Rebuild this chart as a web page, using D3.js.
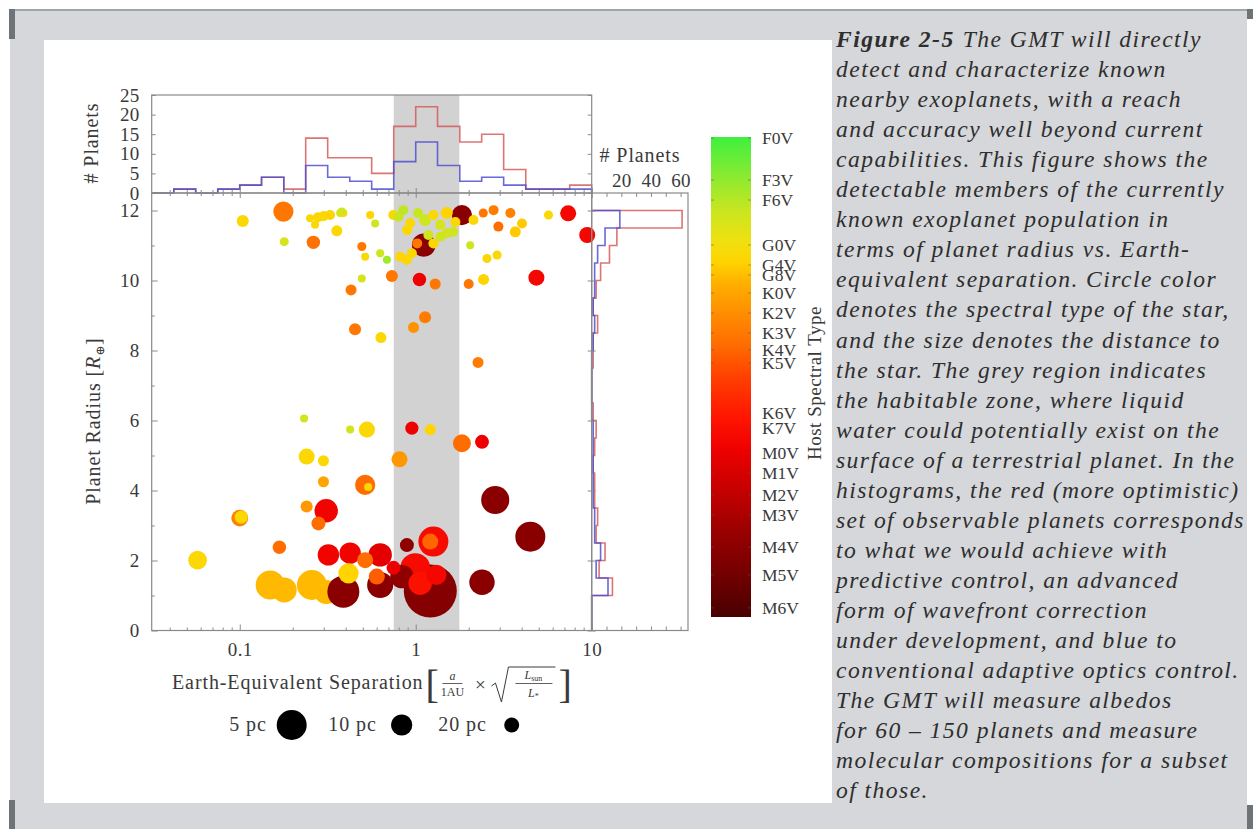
<!DOCTYPE html>
<html>
<head>
<meta charset="utf-8">
<script src="https://cdn.jsdelivr.net/npm/d3@7"></script>
<style>
  html, body { margin: 0; padding: 0; background: #fff; }
  svg { display: block; }
  text { font-family: "Liberation Serif", "DejaVu Serif", serif; }
</style>
</head>
<body>
<svg id="chart"></svg>
<script>
const WIDTH = 1257,
  HEIGHT = 829,
  PANEL = { left: 44, top: 40, right: 832, bottom: 803 },
  MAIN = { left: 151.7, right: 591.7, top: 193, bottom: 630.5 },
  TOP_HIST = { top: 95, bottom: 193 },
  SIDE_HIST = { left: 591.7, right: 688 },
  COLORBAR = { left: 711, width: 40, top: 137, bottom: 617 },
  LEGEND = { x: 291.7, step: 110, y: 725, gap: 25 },
  CAPTION = { x: 836, top: 47, lineHeight: 30.05, size: 23.6, width: 409 },
  FONT_SIZE = 19,
  LABEL_SIZE = 20,
  LABEL_SPACING = 0.9,
  AXIS_COLOR = "#8a8a8a",
  TEXT_COLOR = "#3a3a3a",
  RED_LINE = "#d65c5c",
  BLUE_LINE = "#4f4fd0";

// axis ranges and tick labels
const sepRange = [0.0316, 10];
const radiusRange = [0, 12.5];
const topCountRange = [0, 25];
const sideCountRange = [0, 65];
const xTickLabels = [0.1, 1, 10];
const yTickValues = [0, 2, 4, 6, 8, 10, 12];
const topHistTicks = [0, 5, 10, 15, 20, 25];
const sideHistTicks = [10, 20, 30, 40, 50, 60];
const sideHistLabels = [20, 40, 60];
const habitableZone = [0.75, 1.77];
const legendDistances = [5, 10, 20];

// colour bar: spectral type and its position on the colour axis
const spectralTypes = ["F0V", "F3V", "F6V", "G0V", "G4V", "G8V", "K0V", "K2V", "K3V", "K4V",
  "K5V", "K6V", "K7V", "M0V", "M1V", "M2V", "M3V", "M4V", "M5V", "M6V"];
const spectralValues = [7290, 6888, 6696, 6265, 6073, 5978, 5805, 5613, 5421, 5259,
  5134, 4655, 4511, 4272, 4080, 3869, 3678, 3371, 3103, 2787];
const spectralRange = [7300, 2700];
const colorStopValues = [7300, 6900, 6600, 6300, 6100, 5900, 5600, 5300, 5000, 4600, 4300, 3900, 3500, 3100, 2700];
const colorStopColors = ["#3ef03e", "#8eea30", "#c8e620", "#f0e010", "#ffd400", "#ffb000", "#ff8c00",
  "#ff6c00", "#ff4000", "#ff1400", "#ee0000", "#c40000", "#980000", "#720000", "#480000"];

// histogram of separation (top), red = predictive control, blue = adaptive optics
const sepBinEdges = [0.0316, 0.0422, 0.0562, 0.075, 0.1, 0.133, 0.178, 0.237, 0.316, 0.422, 0.562,
  0.75, 1.0, 1.33, 1.78, 2.37, 3.16, 4.22, 5.62, 7.5, 10];
const sepCountsPredictive = [0, 1, 0, 1, 2, 4, 1, 14, 9, 9, 5, 17, 22, 17, 13, 15, 6, 1, 1, 2];
const sepCountsAdaptive = [0, 1, 0, 1, 2, 4, 0, 7, 4, 3, 1, 8, 13, 7, 3, 4, 2, 1, 1, 1];

// histogram of radius (right)
const radiusBinEdges = [0, 0.5, 1, 1.5, 2, 2.5, 3, 3.5, 4, 4.5, 5, 5.5, 6, 6.5, 7, 7.5, 8, 8.5, 9, 9.5,
  10, 10.5, 11, 11.5, 12];
const radiusCountsPredictive = [0, 0, 14, 5, 9, 3, 4, 2, 2, 1, 2, 3, 1, 0, 0, 1, 1, 4, 1, 3, 6, 12, 17, 61];
const radiusCountsAdaptive = [0, 0, 11, 3, 6, 2, 2, 1, 1, 1, 1, 1, 0, 0, 0, 0, 1, 2, 1, 2, 2, 4, 9, 19];

// planets: separation [AU eq.], radius [R_earth], distance [pc], host colour value
const planetSep = [1.21, 0.149, 0.179, 0.257, 0.31, 0.388, 4.48, 2.83, 1.26, 0.994,
  2.38, 0.628, 0.835, 1.06, 1.31, 0.31, 0.628, 0.319, 0.424, 0.415,
  0.0576, 0.1, 0.102, 0.168, 0.24, 0.28, 0.516, 0.601, 0.891, 1.21,
  0.748, 0.516, 0.537, 0.24, 0.299, 0.299, 0.809, 1.83, 2.38, 0.951,
  1.21, 0.528, 0.424, 0.232, 2.26, 0.634, 0.972, 0.452, 1.13, 0.429,
  0.494, 0.732, 1.05, 1.29, 2.0, 2.43, 4.85, 1.83, 1.11, 0.177,
  7.35, 9.43, 0.104, 0.179, 0.262, 0.251, 0.279, 0.326, 0.372, 0.356,
  0.268, 0.494, 0.516, 0.388, 0.551, 0.588, 0.746, 0.798, 0.849, 0.93,
  1.03, 1.13, 1.26, 1.38, 1.5, 0.894, 1.18, 1.68, 2.13, 2.42,
  2.77, 2.95, 3.45, 3.68, 4.02, 5.68, 0.951, 1.02, 0.891, 0.816,
  1.26, 1.38, 1.5, 1.63, 0.628, 0.686, 2.04, 2.54, 2.9, 0.38, 0.3];
const planetRadius = [1.13, 1.3, 1.16, 1.3, 1.1, 1.11, 2.68, 3.73, 2.54, 1.78,
  1.38, 1.3, 1.54, 1.35, 1.59, 3.42, 2.16, 2.16, 2.21, 1.63,
  2.01, 3.21, 3.24, 2.38, 3.54, 3.06, 2.01, 1.54, 2.44, 2.54,
  1.79, 4.16, 4.1, 4.97, 4.85, 4.25, 4.89, 5.35, 5.39, 5.78,
  5.74, 5.74, 5.74, 6.06, 7.66, 8.37, 8.66, 8.61, 8.95, 9.73,
  10.06, 10.13, 10.03, 9.9, 9.9, 10.03, 10.08, 11.87, 11.01, 11.97,
  11.92, 11.3, 11.7, 11.11, 11.09, 11.78, 11.81, 11.87, 11.93, 11.42,
  11.59, 10.97, 10.68, 11.93, 11.87, 11.63, 11.87, 11.82, 12.01, 11.64,
  11.93, 11.73, 11.87, 11.59, 11.93, 11.44, 11.3, 11.67, 11.73, 11.93,
  12.01, 11.54, 11.93, 11.39, 11.63, 11.87, 10.78, 11.06, 10.59, 10.68,
  11.06, 11.25, 11.35, 11.39, 10.78, 10.59, 11.01, 10.63, 10.73, 11.97, 11.84];
const planetDistance = [1.6, 5.3, 7.2, 5.0, 7.8, 4.4, 5.0, 5.7, 5.0, 5.0,
  7.0, 6.6, 8.2, 8.2, 11, 8.2, 8.2, 9.8, 9.8, 11,
  13, 16, 26, 25, 31, 23, 17.5, 17.5, 23, 17.5,
  23, 11, 70, 17.5, 37, 37, 17.5, 14, 23, 26,
  37, 17.5, 70, 70, 37, 37, 37, 31, 31, 37,
  70, 31, 25, 37, 45, 37, 17.5, 11, 8.2, 11,
  17.5, 17.5, 31, 55, 25, 70, 45, 45, 70, 37,
  70, 55, 70, 70, 70, 70, 45, 45, 45, 45,
  45, 31, 45, 45, 31, 45, 45, 45, 45, 55,
  45, 45, 45, 37, 45, 55, 45, 45, 45, 45,
  45, 45, 45, 45, 70, 70, 70, 55, 55, 70, 45];
const planetHost = [3300, 5950, 5950, 5950, 5950, 3350, 3350, 3350, 4450, 4450,
  3350, 3350, 3400, 4550, 4400, 4350, 4200, 4350, 4350, 6100,
  6150, 5500, 6150, 5300, 5700, 5300, 5300, 5200, 3400, 5250,
  4300, 5300, 6150, 6150, 6150, 5800, 5700, 5300, 4300, 4300,
  6100, 6150, 6550, 6550, 5450, 6150, 5650, 5400, 5450, 5400,
  6500, 5400, 4300, 5400, 5400, 6100, 4400, 3350, 3350, 5400,
  4400, 4400, 6150, 6500, 5350, 6150, 6100, 6100, 6500, 6150,
  6150, 5400, 6150, 6150, 6100, 6550, 6150, 6600, 6650, 6150,
  6600, 6550, 6150, 6500, 6100, 6150, 6550, 6150, 6150, 5400,
  5450, 5300, 5500, 6050, 6050, 6150, 6150, 5400, 6150, 6100,
  6150, 6550, 6550, 6550, 6550, 6800, 6550, 6150, 6150, 6550, 6150];

const captionTitle = "Figure 2-5";
const captionLines = [
  "The GMT will directly",
  "detect and characterize known",
  "nearby exoplanets, with a reach",
  "and accuracy well beyond current",
  "capabilities. This figure shows the",
  "detectable members of the currently",
  "known exoplanet population in",
  "terms of planet radius vs. Earth-",
  "equivalent separation. Circle color",
  "denotes the spectral type of the star,",
  "and the size denotes the distance to",
  "the star. The grey region indicates",
  "the habitable zone, where liquid",
  "water could potentially exist on the",
  "surface of a terrestrial planet. In the",
  "histograms, the red (more optimistic)",
  "set of observable planets corresponds",
  "to what we would achieve with",
  "predictive control, an advanced",
  "form of wavefront correction",
  "under development, and blue to",
  "conventional adaptive optics control.",
  "The GMT will measure albedos",
  "for 60 – 150 planets and measure",
  "molecular compositions for a subset",
  "of those."
];

let svg, x, y, yTop, xSide, size, color, cbY;

document.addEventListener("DOMContentLoaded", function () {
  setSVG();
  setScales();
  drawBackground();
  drawHabitableZone();
  drawHistograms();
  drawPlanets();
  drawAxes();
  drawAxisLabels();
  drawColorbar();
  drawLegend();
  drawCaption();
});

function setSVG() {
  svg = d3.select("#chart").attr("width", WIDTH).attr("height", HEIGHT);
}

function setScales() {
  x = d3.scaleLog().domain(sepRange).range([MAIN.left, MAIN.right]);
  y = d3.scaleLinear().domain(radiusRange).range([MAIN.bottom, MAIN.top]);
  yTop = d3.scaleLinear().domain(topCountRange).range([TOP_HIST.bottom, TOP_HIST.top]);
  xSide = d3.scaleLinear().domain(sideCountRange).range([SIDE_HIST.left, SIDE_HIST.right]);
  size = d3.scalePow().exponent(-0.5).domain([5, 20]).range([15, 7.5]);
  color = d3.scaleLinear().domain(colorStopValues).range(colorStopColors).clamp(true);
  cbY = d3.scaleLinear().domain(spectralRange).range([COLORBAR.top, COLORBAR.bottom]);
}

function drawBackground() {
  svg.append("rect").attr("width", WIDTH).attr("height", HEIGHT).attr("fill", "#fff");
  svg.append("rect")
    .attr("x", 10).attr("y", 10)
    .attr("width", 1237).attr("height", HEIGHT - 10)
    .attr("fill", "#d5d7da");
  svg.append("rect").attr("x", 10).attr("y", 9).attr("width", 1243).attr("height", 2).attr("fill", "#a2a6ab");
  const bars = [[9, 9, 30], [1247, 9, 10], [9, 800, 29], [1247, 805, 24]];
  svg.selectAll(".corner").data(bars).enter().append("rect")
    .attr("class", "corner")
    .attr("x", (d) => d[0]).attr("y", (d) => d[1])
    .attr("width", 6).attr("height", (d) => d[2])
    .attr("fill", "#6e7378");
  svg.append("rect")
    .attr("x", PANEL.left).attr("y", PANEL.top)
    .attr("width", PANEL.right - PANEL.left).attr("height", PANEL.bottom - PANEL.top)
    .attr("fill", "#fff");
}

function drawHabitableZone() {
  svg.append("rect")
    .attr("x", x(habitableZone[0]))
    .attr("y", TOP_HIST.top)
    .attr("width", x(habitableZone[1]) - x(habitableZone[0]))
    .attr("height", MAIN.bottom - TOP_HIST.top)
    .attr("fill", "#d2d2d2");
}

function drawHistograms() {
  const topLine = d3.line()
    .x((d) => x(d[0]))
    .y((d) => yTop(d[1]))
    .curve(d3.curveStepAfter);
  const sideLine = d3.line()
    .x((d) => xSide(d[0]))
    .y((d) => y(d[1]))
    .curve(d3.curveStepBefore);

  const topPoints = (counts) => {
    const pts = [[sepBinEdges[0], 0]];
    counts.forEach((c, i) => pts.push([sepBinEdges[i], c]));
    pts.push([sepBinEdges[counts.length], counts[counts.length - 1]]);
    pts.push([sepBinEdges[counts.length], 0]);
    return pts;
  };
  const sidePoints = (counts) => {
    const pts = [[0, radiusBinEdges[0]]];
    counts.forEach((c, i) => pts.push([c, radiusBinEdges[i]]));
    pts.push([counts[counts.length - 1], radiusBinEdges[counts.length]]);
    pts.push([0, radiusBinEdges[counts.length]]);
    return pts;
  };

  const series = [
    { top: sepCountsPredictive, side: radiusCountsPredictive, color: RED_LINE },
    { top: sepCountsAdaptive, side: radiusCountsAdaptive, color: BLUE_LINE },
  ];
  series.forEach((s) => {
    svg.append("path")
      .attr("d", topLine(topPoints(s.top)))
      .attr("fill", "none").attr("stroke", s.color)
      .attr("stroke-width", 1.6).attr("stroke-opacity", 0.85);
    svg.append("path")
      .attr("d", sideLine(sidePoints(s.side)))
      .attr("fill", "none").attr("stroke", s.color)
      .attr("stroke-width", 1.6).attr("stroke-opacity", 0.85);
  });
}

function drawPlanets() {
  const planets = planetSep.map((s, i) => ({
    sep: s, radius: planetRadius[i], dist: planetDistance[i], host: planetHost[i],
  }));
  svg.append("g")
    .selectAll("circle")
    .data(planets)
    .enter()
    .append("circle")
    .attr("cx", (d) => x(d.sep))
    .attr("cy", (d) => y(d.radius))
    .attr("r", (d) => size(d.dist))
    .attr("fill", (d) => color(d.host));
}

function styleAxis(g) {
  g.select(".domain").remove();
  g.selectAll(".tick line").attr("stroke", AXIS_COLOR);
  g.selectAll(".tick text")
    .attr("fill", TEXT_COLOR)
    .attr("font-size", FONT_SIZE)
    .attr("letter-spacing", 0.4)
    .attr("font-family", '"Liberation Serif", serif');
}

function drawAxes() {
  const frames = [
    [MAIN.left, TOP_HIST.top, MAIN.right, TOP_HIST.bottom],
    [MAIN.left, MAIN.top, MAIN.right, MAIN.bottom],
    [SIDE_HIST.left, MAIN.top, SIDE_HIST.right, MAIN.bottom],
  ];
  svg.selectAll(".frame").data(frames).enter().append("rect")
    .attr("class", "frame")
    .attr("x", (d) => d[0]).attr("y", (d) => d[1])
    .attr("width", (d) => d[2] - d[0]).attr("height", (d) => d[3] - d[1])
    .attr("fill", "none").attr("stroke", AXIS_COLOR).attr("stroke-width", 1.2);

  const minorSep = x.ticks().filter((t) => !xTickLabels.some((m) => Math.abs(m - t) < 1e-9));
  const minorRadius = y.ticks(12).filter((t) => !yTickValues.includes(t));

  // main x axis
  svg.append("g").attr("transform", `translate(0,${MAIN.bottom})`)
    .call(d3.axisBottom(x).tickValues(xTickLabels).tickSize(-6).tickPadding(12).tickFormat((d) => String(d)))
    .call(styleAxis);
  svg.append("g").attr("transform", `translate(0,${MAIN.bottom})`)
    .call(d3.axisBottom(x).tickValues(minorSep).tickSize(-3).tickFormat(""))
    .call(styleAxis);
  // shared boundary between top histogram and main plot
  [d3.axisBottom, d3.axisTop].forEach((ax) => {
    svg.append("g").attr("transform", `translate(0,${MAIN.top})`)
      .call(ax(x).tickValues(xTickLabels).tickSize(-5).tickFormat(""))
      .call(styleAxis);
    svg.append("g").attr("transform", `translate(0,${MAIN.top})`)
      .call(ax(x).tickValues(minorSep).tickSize(-3).tickFormat(""))
      .call(styleAxis);
  });

  // main y axis
  svg.append("g").attr("transform", `translate(${MAIN.left},0)`)
    .call(d3.axisLeft(y).tickValues(yTickValues).tickSize(-6).tickPadding(12))
    .call(styleAxis);
  svg.append("g").attr("transform", `translate(${MAIN.left},0)`)
    .call(d3.axisLeft(y).tickValues(minorRadius).tickSize(-3).tickFormat(""))
    .call(styleAxis);
  svg.append("g").attr("transform", `translate(${MAIN.right},0)`)
    .call(d3.axisLeft(y).tickValues(yTickValues).tickSize(4).tickFormat(""))
    .call(styleAxis);
  svg.append("g").attr("transform", `translate(${MAIN.right},0)`)
    .call(d3.axisRight(y).tickValues(yTickValues).tickSize(4).tickFormat(""))
    .call(styleAxis);

  // top histogram counts
  svg.append("g").attr("transform", `translate(${MAIN.left},0)`)
    .call(d3.axisLeft(yTop).tickValues(topHistTicks).tickSize(-4).tickPadding(12))
    .call(styleAxis);
  svg.append("g").attr("transform", `translate(${MAIN.right},0)`)
    .call(d3.axisRight(yTop).tickValues(topHistTicks).tickSize(-4).tickFormat(""))
    .call(styleAxis);

  // side histogram counts
  svg.append("g").attr("transform", `translate(0,${MAIN.top})`)
    .call(d3.axisTop(xSide).tickValues(sideHistTicks).tickSize(-4).tickPadding(6)
      .tickFormat((d) => (sideHistLabels.includes(d) ? d : "")))
    .call(styleAxis);
  svg.append("g").attr("transform", `translate(0,${MAIN.bottom})`)
    .call(d3.axisBottom(xSide).tickValues(sideHistTicks).tickSize(-4).tickFormat(""))
    .call(styleAxis);
}

function drawAxisLabels() {
  const label = (tx, ty, rot) => svg.append("text")
    .attr("transform", `translate(${tx},${ty}) rotate(${rot})`)
    .attr("text-anchor", "middle")
    .attr("font-size", LABEL_SIZE)
    .attr("letter-spacing", LABEL_SPACING)
    .attr("fill", TEXT_COLOR);

  label(98, 143, -90).text("# Planets");
  label(640, 162, 0).text("# Planets");

  const yl = label(100, 421, -90);
  yl.append("tspan").text("Planet Radius [");
  yl.append("tspan").attr("font-style", "italic").text("R");
  yl.append("tspan").attr("font-size", 12).attr("dy", 4).text("⊕");
  yl.append("tspan").attr("dy", -4).text("]");

  // x label with the small formula
  const xl = svg.append("text")
    .attr("x", 172).attr("y", 689)
    .attr("font-size", LABEL_SIZE).attr("letter-spacing", LABEL_SPACING)
    .attr("fill", TEXT_COLOR)
    .text("Earth-Equivalent Separation");
  const x0 = 172 + xl.node().getComputedTextLength() + 2;
  const math = svg.append("g").attr("transform", `translate(${x0},0)`)
    .attr("fill", TEXT_COLOR);
  math.append("text").attr("x", 0).attr("y", 698).attr("font-size", 40).text("[");
  math.append("text").attr("x", 27).attr("y", 680).attr("font-size", 12)
    .attr("text-anchor", "middle").attr("font-style", "italic").text("a");
  math.append("line").attr("x1", 17).attr("x2", 37).attr("y1", 683.5).attr("y2", 683.5)
    .attr("stroke", TEXT_COLOR).attr("stroke-width", 0.8);
  math.append("text").attr("x", 27).attr("y", 696).attr("font-size", 12)
    .attr("text-anchor", "middle").text("1AU");
  math.append("text").attr("x", 55).attr("y", 691).attr("font-size", FONT_SIZE)
    .attr("text-anchor", "middle").text("×");
  math.append("path")
    .attr("d", "M66,686 L70,683 L76,702 L83,667 L130,667")
    .attr("fill", "none").attr("stroke", TEXT_COLOR).attr("stroke-width", 1);
  const num = math.append("text").attr("x", 108).attr("y", 679).attr("font-size", 12)
    .attr("text-anchor", "middle");
  num.append("tspan").attr("font-style", "italic").text("L");
  num.append("tspan").attr("font-size", 8).attr("dy", 2).text("sun");
  math.append("line").attr("x1", 90).attr("x2", 127).attr("y1", 683.5).attr("y2", 683.5)
    .attr("stroke", TEXT_COLOR).attr("stroke-width", 0.8);
  const den = math.append("text").attr("x", 108).attr("y", 697).attr("font-size", 12)
    .attr("text-anchor", "middle");
  den.append("tspan").attr("font-style", "italic").text("L");
  den.append("tspan").attr("font-size", 8).attr("dy", 2).text("*");
  math.append("text").attr("x", 133).attr("y", 698).attr("font-size", 40).text("]");
}

function drawColorbar() {
  const defs = svg.append("defs");
  const grad = defs.append("linearGradient")
    .attr("id", "cbar").attr("x1", 0).attr("x2", 0).attr("y1", 0).attr("y2", 1);
  const span = COLORBAR.bottom - COLORBAR.top;
  grad.selectAll("stop").data(colorStopValues).enter().append("stop")
    .attr("offset", (d) => (cbY(d) - COLORBAR.top) / span)
    .attr("stop-color", (d) => color(d));

  svg.append("rect")
    .attr("x", COLORBAR.left).attr("y", COLORBAR.top)
    .attr("width", COLORBAR.width).attr("height", span)
    .attr("fill", "url(#cbar)");

  const ticks = svg.append("g").selectAll("g").data(spectralValues).enter().append("g");
  ticks.append("line")
    .attr("x1", COLORBAR.left).attr("x2", COLORBAR.left + 3)
    .attr("y1", (d) => cbY(d)).attr("y2", (d) => cbY(d))
    .attr("stroke", "#555").attr("stroke-opacity", 0.5);
  ticks.append("line")
    .attr("x1", COLORBAR.left + COLORBAR.width - 3).attr("x2", COLORBAR.left + COLORBAR.width)
    .attr("y1", (d) => cbY(d)).attr("y2", (d) => cbY(d))
    .attr("stroke", "#555").attr("stroke-opacity", 0.5);

  svg.append("g").selectAll("text").data(spectralTypes).enter().append("text")
    .attr("x", COLORBAR.left + COLORBAR.width + 11)
    .attr("y", (d, i) => cbY(spectralValues[i]))
    .attr("dy", "0.35em")
    .attr("font-size", 17.5)
    .attr("fill", TEXT_COLOR)
    .text((d) => d);

  svg.append("text")
    .attr("transform", `translate(821,383) rotate(-90)`)
    .attr("text-anchor", "middle")
    .attr("font-size", 19)
    .attr("letter-spacing", 0.5)
    .attr("fill", TEXT_COLOR)
    .text("Host Spectral Type");
}

function drawLegend() {
  const item = svg.append("g").selectAll("g").data(legendDistances).enter().append("g")
    .attr("transform", (d, i) => `translate(${LEGEND.x + i * LEGEND.step},${LEGEND.y})`);
  item.append("circle").attr("r", (d) => size(d)).attr("fill", "#000");
  item.append("text")
    .attr("x", -LEGEND.gap).attr("y", 6)
    .attr("text-anchor", "end")
    .attr("font-size", LABEL_SIZE)
    .attr("letter-spacing", LABEL_SPACING)
    .attr("fill", TEXT_COLOR)
    .text((d) => `${d} pc`);
}

function drawCaption() {
  const lines = svg.append("g").selectAll("text").data(captionLines).enter().append("text")
    .attr("x", CAPTION.x)
    .attr("y", (d, i) => CAPTION.top + i * CAPTION.lineHeight)
    .attr("font-style", "italic")
    .attr("font-size", CAPTION.size)
    .attr("fill", "#2e2e2e");
  lines.filter((d, i) => i === 0).append("tspan").attr("font-weight", "bold").text(captionTitle);
  lines.append("tspan").attr("dx", (d, i) => (i === 0 ? 8 : 0)).text((d) => d);
  // open the letter spacing a little so the widest line fills the column
  const nodes = lines.nodes();
  const widths = nodes.map((n) => n.getComputedTextLength());
  const k = d3.maxIndex(widths);
  const chars = nodes[k].textContent.length;
  const spacing = Math.max(0, (CAPTION.width - widths[k]) / chars);
  lines.attr("letter-spacing", spacing);
}
</script>
</body>
</html>
